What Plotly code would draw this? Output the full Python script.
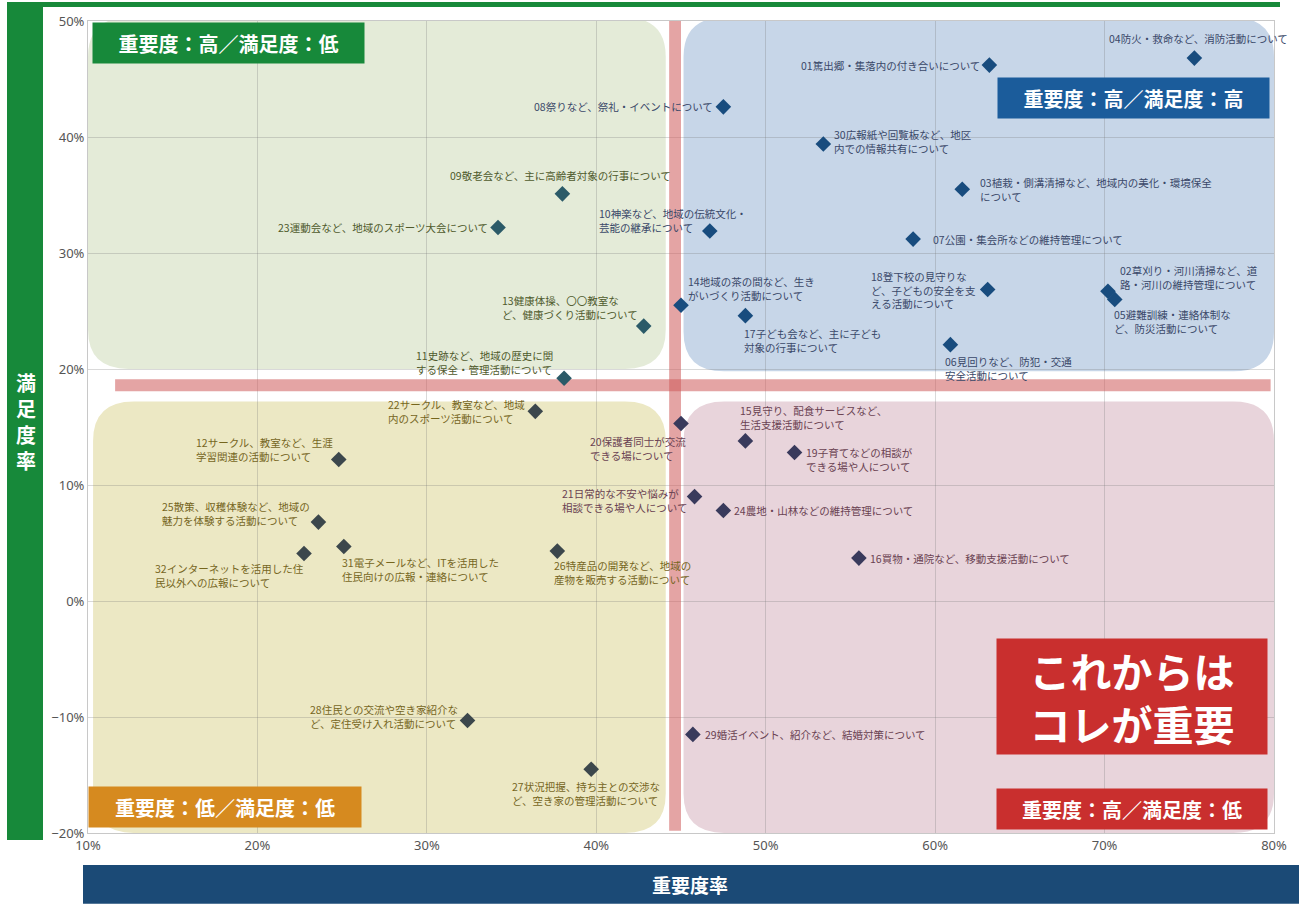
import plotly.graph_objects as go

# 重要度率 (x) / 満足度率 (y), in percent
IDS = ["01", "02", "03", "04", "05", "06", "07", "08", "09", "10", "11", "12",
       "13", "14", "15", "16", "17", "18", "19", "20", "21", "22", "23", "24",
       "25", "26", "27", "28", "29", "30", "31", "32"]
IMPORTANCE = [63.2, 70.2, 61.6, 75.3, 70.6, 60.9, 58.7, 47.5, 38.0, 46.7, 38.1, 24.8,
              42.8, 45.0, 48.8, 55.5, 48.8, 63.1, 51.7, 45.0, 45.8, 36.4, 34.2, 47.5,
              23.6, 37.7, 39.7, 32.4, 45.7, 53.4, 25.1, 22.75]
SATISFACTION = [46.2, 26.7, 35.5, 46.8, 26.0, 22.1, 31.2, 42.6, 35.1, 31.9, 19.2, 12.2,
                23.7, 25.5, 13.8, 3.7, 24.6, 26.85, 12.8, 15.3, 9.0, 16.35, 32.2, 7.8,
                6.8, 4.3, -14.5, -10.3, -11.5, 39.4, 4.7, 4.1]
LABELS = [
    "01篤出郷・集落内の付き合いについて",
    "02草刈り・河川清掃など、道<br>路・河川の維持管理について",
    "03植栽・側溝清掃など、地域内の美化・環境保全<br>について",
    "04防火・救命など、消防活動について",
    "05避難訓練・連絡体制な<br>ど、防災活動について",
    "06見回りなど、防犯・交通<br>安全活動について",
    "07公園・集会所などの維持管理について",
    "08祭りなど、祭礼・イベントについて",
    "09敬老会など、主に高齢者対象の行事について",
    "10神楽など、地域の伝統文化・<br>芸能の継承について",
    "11史跡など、地域の歴史に関<br>する保全・管理活動について",
    "12サークル、教室など、生涯<br>学習関連の活動について",
    "13健康体操、〇〇教室な<br>ど、健康づくり活動について",
    "14地域の茶の間など、生き<br>がいづくり活動について",
    "15見守り、配食サービスなど、<br>生活支援活動について",
    "16買物・通院など、移動支援活動について",
    "17子ども会など、主に子ども<br>対象の行事について",
    "18登下校の見守りな<br>ど、子どもの安全を支<br>える活動について",
    "19子育てなどの相談が<br>できる場や人について",
    "20保護者同士が交流<br>できる場について",
    "21日常的な不安や悩みが<br>相談できる場や人について",
    "22サークル、教室など、地域<br>内のスポーツ活動について",
    "23運動会など、地域のスポーツ大会について",
    "24農地・山林などの維持管理について",
    "25散策、収穫体験など、地域の<br>魅力を体験する活動について",
    "26特産品の開発など、地域の<br>産物を販売する活動について",
    "27状況把握、持ち主との交渉な<br>ど、空き家の管理活動について",
    "28住民との交流や空き家紹介な<br>ど、定住受け入れ活動について",
    "29婚活イベント、紹介など、結婚対策について",
    "30広報紙や回覧板など、地区<br>内での情報共有について",
    "31電子メールなど、ITを活用した<br>住民向けの広報・連絡について",
    "32インターネットを活用した住<br>民以外への広報について",
]
# average lines (cross)
X_AVG = 44.65
Y_AVG = 18.6

# label placement: xanchor, yanchor, xshift, yshift (pixels)
PLACE = {
    "01": ("right", "middle", -7, 0), "02": ("left", "middle", 10, 14),
    "03": ("left", "middle", 16, 0), "04": ("left", "bottom", -87, 10),
    "05": ("left", "middle", -3, -22), "06": ("left", "middle", -7, -24),
    "07": ("left", "middle", 18, 0), "08": ("right", "middle", -8, 0),
    "09": ("left", "bottom", -114, 9), "10": ("left", "bottom", -113, -6),
    "11": ("right", "middle", -9, 16), "12": ("right", "middle", -4, 10),
    "13": ("right", "middle", -4, 19), "14": ("left", "middle", 5, 17),
    "15": ("left", "middle", -7, 23), "16": ("left", "middle", 9, 0),
    "17": ("left", "middle", -3, -25), "18": ("right", "middle", -10, 0),
    "19": ("left", "middle", 9, -7), "20": ("left", "middle", -93, -25),
    "21": ("right", "middle", -6, -4), "22": ("right", "middle", -8, 0),
    "23": ("right", "middle", -8, 0), "24": ("left", "middle", 9, 0),
    "25": ("right", "middle", -6, 9), "26": ("left", "middle", -5, -21),
    "27": ("left", "middle", -81, -24), "28": ("right", "middle", -8, 4),
    "29": ("left", "middle", 10, 0), "30": ("left", "middle", 9, 2),
    "31": ("left", "middle", -4, -23), "32": ("right", "middle", 2, -22),
}

FONT = "Noto Sans CJK JP"
W, H = 1299, 904
ML, MR, MT, MB = 88, 25, 19, 71
PW, PH = W - ML - MR, H - MT - MB


def px(xp):
    return (xp - ML) / PW


def py(yp):
    return (H - MB - yp) / PH


def quadrant(x, y):
    if y >= Y_AVG:
        return "ul" if x < X_AVG else "ur"
    return "ll" if x < X_AVG else "lr"


MARKER_C = {"ul": "#2b5a68", "ur": "#184c7e", "ll": "#3c474c", "lr": "#393a5c"}
TEXT_C = {"ul": "#4f5a2c", "ur": "#3a4868", "ll": "#76661e", "lr": "#6a4252"}
PANEL_C = {"ul": "#e4ebd8", "ur": "#c7d6e8", "ll": "#ece8c4", "lr": "#e8d4db"}


def rounded(x0, x1, y0, y1, rx=2.4, ry=3.4):
    return (f"M{x0+rx},{y0} L{x1-rx},{y0} Q{x1},{y0} {x1},{y0+ry} "
            f"L{x1},{y1-ry} Q{x1},{y1} {x1-rx},{y1} L{x0+rx},{y1} "
            f"Q{x0},{y1} {x0},{y1-ry} L{x0},{y0+ry} Q{x0},{y0} {x0+rx},{y0} Z")


fig = go.Figure()

quads = [quadrant(x, y) for x, y in zip(IMPORTANCE, SATISFACTION)]
fig.add_trace(go.Scatter(
    x=IMPORTANCE, y=SATISFACTION, mode="markers",
    marker=dict(symbol="diamond", size=12, color=[MARKER_C[q] for q in quads]),
    hoverinfo="skip", showlegend=False,
))

shapes = []
# quadrant panels
shapes.append(dict(type="path", path=rounded(10, 44.1, 20.0, 50.3), xref="x", yref="y",
                   fillcolor=PANEL_C["ul"], line_width=0, layer="below"))
shapes.append(dict(type="path", path=rounded(45.15, 80, 19.8, 50.3), xref="x", yref="y",
                   fillcolor=PANEL_C["ur"], line_width=0, layer="below"))
shapes.append(dict(type="path", path=rounded(10.3, 44.1, -20, 17.2), xref="x", yref="y",
                   fillcolor=PANEL_C["ll"], line_width=0, layer="below"))
shapes.append(dict(type="path", path=rounded(45.15, 80, -20, 17.2), xref="x", yref="y",
                   fillcolor=PANEL_C["lr"], line_width=0, layer="below"))
# average cross
shapes.append(dict(type="rect", xref="x", yref="y", x0=X_AVG - 0.35, x1=X_AVG + 0.35,
                   y0=-19.8, y1=50.2, fillcolor="rgba(205,90,90,0.55)", line_width=0,
                   layer="between"))
shapes.append(dict(type="rect", xref="x", yref="y", x0=11.6, x1=79.8,
                   y0=Y_AVG - 0.52, y1=Y_AVG + 0.52, fillcolor="rgba(205,90,90,0.55)",
                   line_width=0, layer="between"))
# axis title bars
shapes.append(dict(type="rect", xref="paper", yref="paper", x0=px(7), x1=px(43),
                   y0=py(840), y1=py(0), fillcolor="#17893a", line_width=0))
shapes.append(dict(type="rect", xref="paper", yref="paper", x0=px(83), x1=px(1299),
                   y0=py(904), y1=py(865), fillcolor="#1b4a76", line_width=0))
shapes.append(dict(type="rect", xref="paper", yref="paper", x0=px(30), x1=px(1280),
                   y0=py(5), y1=py(0), fillcolor="#17893a", line_width=0))

annotations = []
for i, lab in enumerate(LABELS):
    xa, ya, xs, ys = PLACE[IDS[i]]
    annotations.append(dict(
        x=IMPORTANCE[i], y=SATISFACTION[i], xref="x", yref="y", text=lab,
        showarrow=False, xanchor=xa, yanchor=ya, xshift=xs, yshift=ys, align="left",
        font=dict(family=FONT, size=10.5, color=TEXT_C[quads[i]]),
    ))


def tag(text, x, y, xa, ya, xs, ys, bg, w, h, size=20):
    return dict(x=x, y=y, xref="x", yref="y", text=f"<b>{text}</b>", showarrow=False,
                xanchor=xa, yanchor=ya, xshift=xs, yshift=ys, bgcolor=bg,
                width=w, height=h, borderpad=0, align="center",
                font=dict(family=FONT, size=size, color="white"))


annotations += [
    tag("重要度：高／満足度：低", 10, 50, "left", "top", 4, -1, "#17893a", 271, 40),
    tag("重要度：高／満足度：高", 80, 50, "right", "top", -4, -56, "#1b5c9b", 271, 40),
    tag("重要度：低／満足度：低", 10, -20, "left", "bottom", 0, 5, "#d68a1f", 272, 40),
    tag("重要度：高／満足度：低", 80, -20, "right", "bottom", -6, 3, "#c92f2e", 270, 40),
    tag("これからは<br>コレが重要", 80, -20, "right", "bottom", -6, 78, "#c92f2e",
        270, 115, size=41),
    dict(x=px(26), y=py(420), xref="paper", yref="paper", xanchor="center",
         yanchor="middle", text="<b>満<br>足<br>度<br>率</b>", showarrow=False,
         font=dict(family=FONT, size=20, color="white")),
    dict(x=px(690), y=py(885), xref="paper", yref="paper", xanchor="center",
         yanchor="middle", text="<b>重要度率</b>", showarrow=False,
         font=dict(family=FONT, size=19, color="white")),
]

fig.update_layout(
    width=W, height=H, margin=dict(l=ML, r=MR, t=MT, b=MB),
    paper_bgcolor="white", plot_bgcolor="white",
    shapes=shapes, annotations=annotations, showlegend=False,
    font=dict(family=FONT),
)
fig.update_xaxes(range=[10, 80], dtick=10, ticksuffix="%", showgrid=True,
                 gridcolor="rgba(120,120,120,0.28)", zeroline=False, showline=True,
                 linecolor="#c8c8c8", mirror=True,
                 tickfont=dict(family="Noto Sans", size=13, color="#555"))
fig.update_yaxes(range=[-20, 50], dtick=10, ticksuffix="%", showgrid=True,
                 gridcolor="rgba(120,120,120,0.28)", zeroline=False, showline=True,
                 linecolor="#c8c8c8", mirror=True,
                 tickfont=dict(family="Noto Sans", size=13, color="#555"))

fig.write_html("out.html", config={"displayModeBar": False},
               post_script="document.body.style.margin='0';")
